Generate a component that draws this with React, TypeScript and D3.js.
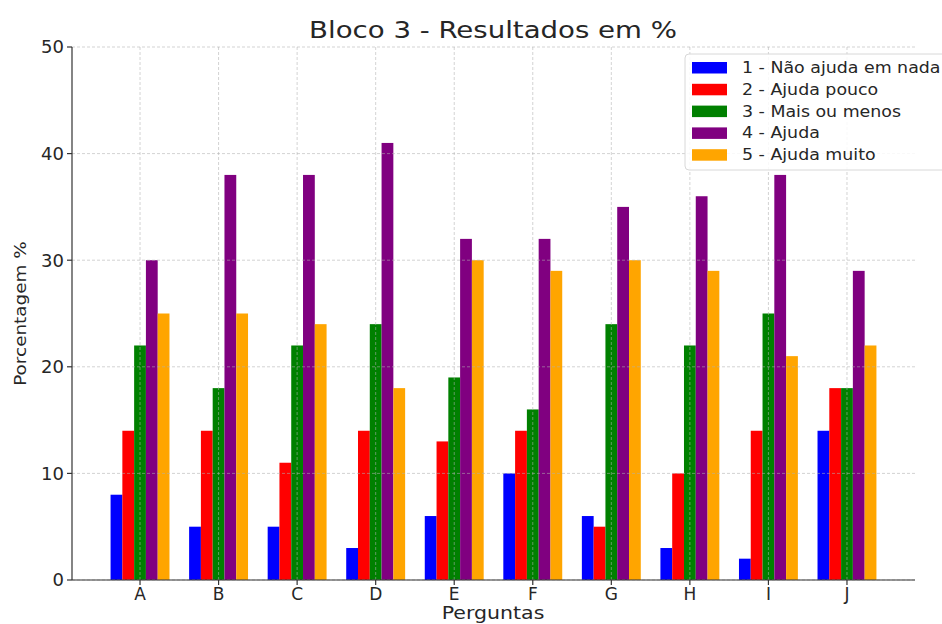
import React from "react";
import * as d3 from "d3";

const categories = ["A", "B", "C", "D", "E", "F", "G", "H", "I", "J"];
const seriesNames = [
  "1 - Não ajuda em nada",
  "2 - Ajuda pouco",
  "3 - Mais ou menos",
  "4 - Ajuda",
  "5 - Ajuda muito",
];
const seriesColors = ["#0000ff", "#ff0000", "#008000", "#800080", "#ffa500"];
const s1 = [8, 5, 5, 3, 6, 10, 6, 3, 2, 14];
const s2 = [14, 14, 11, 14, 13, 14, 5, 10, 14, 18];
const s3 = [22, 18, 22, 24, 19, 16, 24, 22, 25, 18];
const s4 = [30, 38, 38, 41, 32, 32, 35, 36, 38, 29];
const s5 = [25, 25, 24, 18, 30, 29, 30, 29, 21, 22];
const seriesValues = [s1, s2, s3, s4, s5];
const yTicks = [0, 10, 20, 30, 40, 50];

const W = 942;
const H = 624;
const left = 72;
const right = 915;
const top = 47;
const bottom = 580;
const barW = 0.15;

export default function App() {
  const x = d3.scaleLinear().domain([-0.866, 9.866]).range([left, right]);
  const y = d3.scaleLinear().domain([0, 50]).range([bottom, top]);
  const font = "DejaVu Sans, sans-serif";
  const textColor = "#262626";
  return (
    <svg width={W} height={H} style={{ position: "absolute", left: 0, top: 0 }} fontFamily={font}>
      <rect x={0} y={0} width={W} height={H} fill="#fff" />
      {seriesValues.map((vals, si) =>
        vals.map((v, ci) => {
          const x0 = x(ci + (si - 2) * barW - barW / 2);
          const x1 = x(ci + (si - 2) * barW + barW / 2);
          return (
            <rect
              key={`${si}-${ci}`}
              x={x0}
              y={y(v)}
              width={x1 - x0}
              height={y(0) - y(v)}
              fill={seriesColors[si]}
            />
          );
        })
      )}
      {yTicks.map((t) => (
        <line key={`gy${t}`} x1={left} x2={right} y1={y(t)} y2={y(t)} stroke="#b0b0b0" strokeOpacity={0.7} strokeDasharray="3,2" strokeWidth={0.8} />
      ))}
      {categories.map((c, i) => (
        <line key={`gx${c}`} x1={x(i)} x2={x(i)} y1={top} y2={bottom} stroke="#b0b0b0" strokeOpacity={0.7} strokeDasharray="3,2" strokeWidth={0.8} />
      ))}
      <line x1={left} x2={left} y1={top} y2={bottom} stroke="#333" strokeWidth={1.2} />
      <line x1={left} x2={right} y1={bottom} y2={bottom} stroke="#333" strokeWidth={1.2} />
      {yTicks.map((t) => (
        <g key={`ty${t}`}>
          <line x1={left - 5} x2={left} y1={y(t)} y2={y(t)} stroke="#333" strokeWidth={1.2} />
          <text x={left - 8} y={y(t)} dy="0.36em" textAnchor="end" fontSize={18} fill={textColor}>
            {t}
          </text>
        </g>
      ))}
      {categories.map((c, i) => (
        <g key={`tx${c}`}>
          <line x1={x(i)} x2={x(i)} y1={bottom} y2={bottom + 5} stroke="#333" strokeWidth={1.2} />
          <text x={x(i)} y={bottom + 20} textAnchor="middle" fontSize={17} fill={textColor}>
            {c}
          </text>
        </g>
      ))}
      <g transform="translate(493,38) scale(1.2,1)">
        <text x={0} y={0} textAnchor="middle" fontSize={23} fill={textColor}>
          Bloco 3 - Resultados em %
        </text>
      </g>
      <g transform="translate(493,619) scale(1.14,1)">
        <text x={0} y={0} textAnchor="middle" fontSize={18} fill={textColor}>
          Perguntas
        </text>
      </g>
      <g transform={`translate(26,${(top + bottom) / 2}) rotate(-90) scale(1.15,1)`}>
        <text x={0} y={0} textAnchor="middle" fontSize={16} fill={textColor}>
          Porcentagem %
        </text>
      </g>
      <rect x={685} y={54} width={270} height={116} rx={4} fill="#fff" fillOpacity={0.85} stroke="#d8d8d8" strokeWidth={1} />
      {seriesNames.map((n, i) => (
        <g key={n}>
          <rect x={692} y={62 + i * 21.8} width={35} height={11.5} fill={seriesColors[i]} />
          <g transform={`translate(742,${73 + i * 21.8}) scale(1.16,1)`}>
            <text x={0} y={0} fontSize={15} fill={textColor}>
              {n}
            </text>
          </g>
        </g>
      ))}
    </svg>
  );
}
